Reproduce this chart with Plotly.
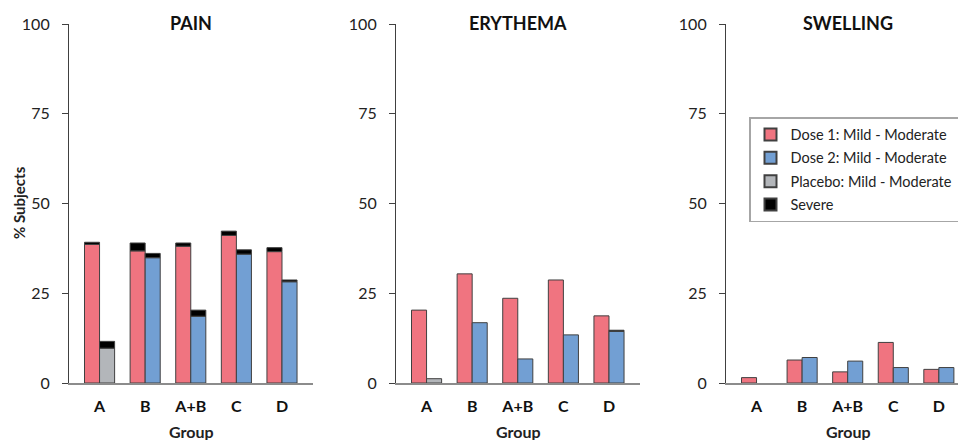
import plotly.graph_objects as go

groups = ["A", "B", "A+B", "C", "D"]
panels = ["PAIN", "ERYTHEMA", "SWELLING"]

# Mild-moderate values (% subjects)
dose1_mild = {
    "PAIN":     [38.6, 36.8, 38.1, 41.1, 36.6],
    "ERYTHEMA": [20.3, 30.4, 23.6, 28.7, 18.7],
    "SWELLING": [1.5, 6.4, 3.1, 11.3, 3.8],
}
dose1_severe = {
    "PAIN":     [0.6, 2.2, 0.9, 1.2, 1.1],
    "ERYTHEMA": [None, None, None, None, None],
    "SWELLING": [None, None, None, None, None],
}
dose2_mild = {
    "PAIN":     [None, 34.9, 18.6, 35.9, 28.2],
    "ERYTHEMA": [None, 16.8, 6.7, 13.4, 14.4],
    "SWELLING": [None, 7.1, 6.1, 4.3, 4.3],
}
placebo_mild = {
    "PAIN":     [9.7, None, None, None, None],
    "ERYTHEMA": [1.2, None, None, None, None],
    "SWELLING": [None, None, None, None, None],
}
second_severe = {
    "PAIN":     [1.9, 1.2, 1.7, 1.2, 0.5],
    "ERYTHEMA": [None, None, None, None, 0.3],
    "SWELLING": [None, None, None, None, None],
}

yticks = [0, 25, 50, 75, 100]

C_RED = "#F07480"
C_BLUE = "#729FD3"
C_GRAY = "#B3B6BA"
C_BLACK = "#000000"
OUTLINE = dict(color="#404040", width=1)

FONT = "Lato, 'Open Sans', sans-serif"

W, H = 958, 440
doms = [(69 / W, 313 / W), (396 / W, 640 / W), (726 / W, 1.0)]
xranges = [[-0.67, 4.68], [-0.67, 4.68], [-0.67, 4.42]]
ydom = [57 / H, 416 / H]

fig = go.Figure()


def base_of(vals):
    return [v if v is not None else 0 for v in vals]


for i, p in enumerate(panels):
    xa = "x" if i == 0 else f"x{i+1}"
    ya = "y" if i == 0 else f"y{i+1}"
    show = i == 0
    fig.add_trace(go.Bar(x=groups, y=dose1_mild[p], name="Dose 1: Mild - Moderate",
                         marker=dict(color=C_RED, line=OUTLINE), offsetgroup="1",
                         xaxis=xa, yaxis=ya, showlegend=show, legendgroup="d1", legendrank=1))
    fig.add_trace(go.Bar(x=groups, y=dose2_mild[p], name="Dose 2: Mild - Moderate",
                         marker=dict(color=C_BLUE, line=OUTLINE), offsetgroup="2",
                         xaxis=xa, yaxis=ya, showlegend=show, legendgroup="d2", legendrank=2))
    fig.add_trace(go.Bar(x=groups, y=placebo_mild[p], name="Placebo: Mild - Moderate",
                         marker=dict(color=C_GRAY, line=OUTLINE), offsetgroup="2",
                         xaxis=xa, yaxis=ya, showlegend=show, legendgroup="pl", legendrank=3))
    fig.add_trace(go.Bar(x=groups, y=dose1_severe[p], base=base_of(dose1_mild[p]), name="Severe",
                         marker=dict(color=C_BLACK, line=OUTLINE), offsetgroup="1",
                         xaxis=xa, yaxis=ya, showlegend=show, legendgroup="sv", legendrank=4))
    second_base = [a if a is not None else b for a, b in zip(dose2_mild[p], placebo_mild[p])]
    fig.add_trace(go.Bar(x=groups, y=second_severe[p], base=base_of(second_base), name="Severe",
                         marker=dict(color=C_BLACK, line=OUTLINE), offsetgroup="2",
                         xaxis=xa, yaxis=ya, showlegend=False, legendgroup="sv", legendrank=4))

    xkey = "xaxis" if i == 0 else f"xaxis{i+1}"
    ykey = "yaxis" if i == 0 else f"yaxis{i+1}"
    fig.layout[xkey] = dict(domain=list(doms[i]), anchor=ya, type="category",
                            categoryorder="array", categoryarray=groups,
                            range=xranges[i], showline=True, linecolor="#8C8C8C", linewidth=1.5,
                            ticks="", showgrid=False, zeroline=False, automargin=False,
                            tickfont=dict(family=FONT, size=16, color="#111111", weight="bold"),
                            ticklabelstandoff=8, fixedrange=True)
    fig.layout[ykey] = dict(domain=ydom, anchor=xa, range=[0, 100], tickvals=yticks,
                            showline=True, linecolor="#404040", linewidth=1.2,
                            ticks="outside", ticklen=6, tickcolor="#404040",
                            showgrid=False, zeroline=False, automargin=False,
                            tickfont=dict(family=FONT, size=16, color="#222222"),
                            ticklabelstandoff=9, fixedrange=True)
    cx = (doms[i][0] + (313 / W - 69 / W) / 2) if i < 2 else (726 + 122) / W
    fig.add_annotation(text="<b>" + p + "</b>", x=cx, y=(H - 23) / H, xref="paper", yref="paper",
                       showarrow=False, font=dict(family=FONT, size=18, color="#111111"),
                       xanchor="center", yanchor="middle")
    fig.add_annotation(text="<b>Group</b>", x=cx, y=(H - 431) / H, xref="paper", yref="paper",
                       showarrow=False, font=dict(family=FONT, size=16, color="#222222"),
                       xanchor="center", yanchor="middle")

fig.add_annotation(text="<b>% Subjects</b>", x=19 / W, y=(H - 203) / H, xref="paper", yref="paper",
                   showarrow=False, textangle=-90, font=dict(family=FONT, size=15, color="#222222"),
                   xanchor="center", yanchor="middle")

fig.update_layout(
    width=W, height=H, margin=dict(l=0, r=0, t=0, b=0, autoexpand=False),
    paper_bgcolor="white", plot_bgcolor="white",
    barmode="group", bargap=0.34, bargroupgap=0,
    legend=dict(x=749 / W, y=(H - 117) / H, xanchor="left", yanchor="top",
                bordercolor="#A6A6A6", borderwidth=1.5, bgcolor="white",
                font=dict(family=FONT, size=14.5, color="#222222"),
                traceorder="grouped", tracegroupgap=1.5, itemsizing="constant"),
    showlegend=True,
)

fig.write_html("out.html", config={"displayModeBar": False},
               post_script="document.body.style.margin='0';document.body.style.overflow='hidden';")
